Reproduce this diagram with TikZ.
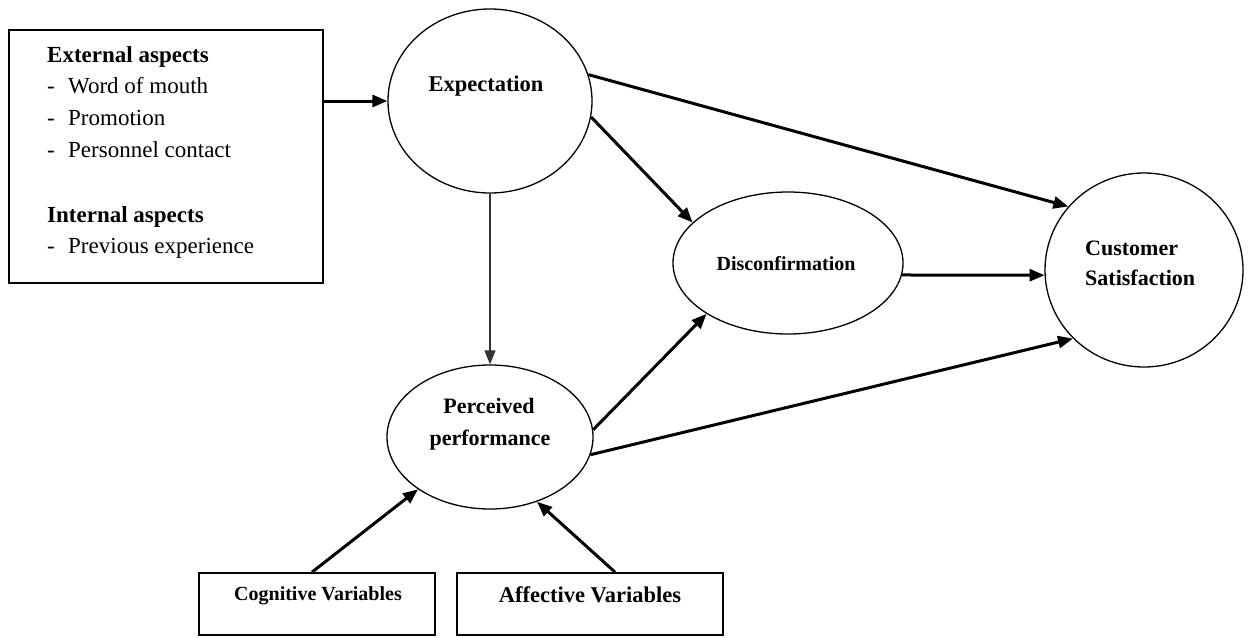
\documentclass[tikz,border=0pt]{standalone}
\usepackage{fontspec}
\setmainfont{Liberation Serif}
\usetikzlibrary{arrows.meta,shapes.geometric}
\newcommand{\fsz}[1]{\fontsize{#1}{#1}\selectfont}
\newcommand{\itm}[1]{\makebox[21pt][l]{-}#1}
\begin{document}
\begin{tikzpicture}[x=1pt,y=-1pt,
  oval/.style={ellipse, draw, line width=1.3pt, inner sep=0pt},
  panel/.style={rectangle, draw, line width=1.8pt, inner sep=0pt},
  tx/.style={inner sep=0pt, anchor=base},
  arr/.style={-{Triangle[length=15pt,width=12pt]}, line width=3pt},
  thinarr/.style={-{Triangle[length=14pt,width=11pt]}, line width=1.5pt, draw=black!80},
]
\useasboundingbox (0,0) rectangle (1249,637);

% outline shapes
\node[panel, minimum width=314pt, minimum height=253pt] (ext) at (166,156.5) {};
\node[oval, minimum width=204pt, minimum height=184pt] (exp) at (490,101) {};
\node[oval, minimum width=206pt, minimum height=144pt] (pp) at (490,437) {};
\node[oval, minimum width=230pt, minimum height=142pt] (disc) at (788,263) {};
\node[oval, minimum width=198pt, minimum height=194pt] (cs) at (1144,270) {};
\node[panel, minimum width=236pt, minimum height=62pt] (cog) at (317,604) {};
\node[panel, minimum width=266pt, minimum height=62pt] (aff) at (590,604) {};

% text of the aspects panel
\begin{scope}[every node/.style={tx, anchor=base west, font=\fsz{23}}]
  \node[font=\bfseries\fsz{23}] (h1) at (47,62) {External aspects};
  \node (i1) at (47,93) {\itm{Word of mouth}};
  \node (i2) at (47,125) {\itm{Promotion}};
  \node (i3) at (47,157) {\itm{Personnel contact}};
  \node[font=\bfseries\fsz{23}] (h2) at (47,222) {Internal aspects};
  \node (i4) at (47,253) {\itm{Previous experience}};
\end{scope}

% labels of the constructs
\node[tx, font=\bfseries\fsz{22.5}] (expl) at (486,91) {Expectation};
\node[tx, font=\bfseries\fsz{20}] (discl) at (786,270) {Disconfirmation};
\node[tx, anchor=base west, font=\bfseries\fsz{22}] (csl1) at (1085,255) {Customer};
\node[tx, anchor=base west, font=\bfseries\fsz{22}] (csl2) at (1085,285) {Satisfaction};
\node[tx, font=\bfseries\fsz{22}] (ppl1) at (489,413) {Perceived};
\node[tx, font=\bfseries\fsz{22}] (ppl2) at (490,445) {performance};
\node[tx, font=\bfseries\fsz{20}] (cogl) at (318,600) {Cognitive Variables};
\node[tx, font=\bfseries\fsz{22.5}] (affl) at (590,602) {Affective Variables};

% connectors
\draw[arr] (ext.east |- exp.west) -- (exp.west);
\draw[arr] (exp.15) -- (cs.140);
\draw[arr] (exp.-9) -- (disc.157);
\draw[thinarr] (exp.south) -- (pp.north);
\draw[arr] (pp.4) -- (disc.212);
\draw[arr] (pp.-10) -- (cs.224);
\draw[arr] (disc.-6) -- (cs.183);
\draw[arr] ([xshift=-5pt]cog.north) -- (pp.216);
\draw[arr] ([xshift=25pt]aff.north) -- (pp.-54);
\end{tikzpicture}
\end{document}
